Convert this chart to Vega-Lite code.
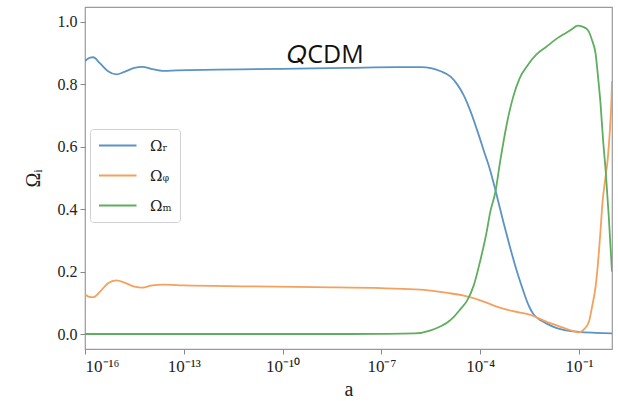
{
  "$schema": "https://vega.github.io/schema/vega-lite/v6.json",
  "autosize": "none",
  "width": 527,
  "height": 342,
  "padding": {"left": 85, "top": 7, "right": 6, "bottom": 52},
  "background": "white",
  "title": {"text": "𝑄CDM", "font": "Open Sans", "fontSize": 25, "fontWeight": "normal", "color": "#111", "anchor": "middle", "frame": "group", "baseline": "alphabetic", "offset": 0, "dx": -23, "dy": 81},
  "config": {
    "view": {"stroke": "#9a9a9a", "strokeWidth": 1.2},
    "axis": {"domain": false, "grid": false, "tickColor": "#888", "tickSize": 5},
    "style": {"guide-label": {"font": "Liberation Serif", "fontSize": 16, "fill": "#222"}}
  },
  "data": {"values": [
    {"a": 1e-16, "v": 0.875, "s": "Ωᵣ"},
    {"a": 1.41e-16, "v": 0.886, "s": "Ωᵣ"},
    {"a": 1.78e-16, "v": 0.887, "s": "Ωᵣ"},
    {"a": 2.82e-16, "v": 0.868, "s": "Ωᵣ"},
    {"a": 5.01e-16, "v": 0.842, "s": "Ωᵣ"},
    {"a": 8.91e-16, "v": 0.832, "s": "Ωᵣ"},
    {"a": 1.58e-15, "v": 0.840, "s": "Ωᵣ"},
    {"a": 3.16e-15, "v": 0.853, "s": "Ωᵣ"},
    {"a": 5.62e-15, "v": 0.856, "s": "Ωᵣ"},
    {"a": 1e-14, "v": 0.850, "s": "Ωᵣ"},
    {"a": 2.51e-14, "v": 0.843, "s": "Ωᵣ"},
    {"a": 6.31e-14, "v": 0.845, "s": "Ωᵣ"},
    {"a": 1e-12, "v": 0.847, "s": "Ωᵣ"},
    {"a": 1e-10, "v": 0.850, "s": "Ωᵣ"},
    {"a": 1e-8, "v": 0.853, "s": "Ωᵣ"},
    {"a": 3.16e-7, "v": 0.855, "s": "Ωᵣ"},
    {"a": 1.58e-6, "v": 0.855, "s": "Ωᵣ"},
    {"a": 3.16e-6, "v": 0.852, "s": "Ωᵣ"},
    {"a": 6.31e-6, "v": 0.842, "s": "Ωᵣ"},
    {"a": 1.26e-5, "v": 0.825, "s": "Ωᵣ"},
    {"a": 2.0e-5, "v": 0.80, "s": "Ωᵣ"},
    {"a": 3.16e-5, "v": 0.765, "s": "Ωᵣ"},
    {"a": 5.01e-5, "v": 0.715, "s": "Ωᵣ"},
    {"a": 7.94e-5, "v": 0.655, "s": "Ωᵣ"},
    {"a": 1.26e-4, "v": 0.59, "s": "Ωᵣ"},
    {"a": 2.0e-4, "v": 0.525, "s": "Ωᵣ"},
    {"a": 3.16e-4, "v": 0.445, "s": "Ωᵣ"},
    {"a": 5.01e-4, "v": 0.36, "s": "Ωᵣ"},
    {"a": 7.94e-4, "v": 0.28, "s": "Ωᵣ"},
    {"a": 1.26e-3, "v": 0.205, "s": "Ωᵣ"},
    {"a": 2.0e-3, "v": 0.14, "s": "Ωᵣ"},
    {"a": 2.51e-3, "v": 0.11, "s": "Ωᵣ"},
    {"a": 3.16e-3, "v": 0.085, "s": "Ωᵣ"},
    {"a": 3.98e-3, "v": 0.066, "s": "Ωᵣ"},
    {"a": 5.01e-3, "v": 0.054, "s": "Ωᵣ"},
    {"a": 7.08e-3, "v": 0.043, "s": "Ωᵣ"},
    {"a": 0.01, "v": 0.034, "s": "Ωᵣ"},
    {"a": 0.02, "v": 0.02, "s": "Ωᵣ"},
    {"a": 0.0398, "v": 0.012, "s": "Ωᵣ"},
    {"a": 0.1, "v": 0.007, "s": "Ωᵣ"},
    {"a": 0.316, "v": 0.004, "s": "Ωᵣ"},
    {"a": 1, "v": 0.002, "s": "Ωᵣ"},

    {"a": 1e-16, "v": 0.128, "s": "Ωᵩ"},
    {"a": 1.26e-16, "v": 0.12, "s": "Ωᵩ"},
    {"a": 1.78e-16, "v": 0.118, "s": "Ωᵩ"},
    {"a": 2.82e-16, "v": 0.135, "s": "Ωᵩ"},
    {"a": 5.01e-16, "v": 0.163, "s": "Ωᵩ"},
    {"a": 8.91e-16, "v": 0.172, "s": "Ωᵩ"},
    {"a": 1.58e-15, "v": 0.165, "s": "Ωᵩ"},
    {"a": 3.16e-15, "v": 0.152, "s": "Ωᵩ"},
    {"a": 5.62e-15, "v": 0.149, "s": "Ωᵩ"},
    {"a": 1e-14, "v": 0.155, "s": "Ωᵩ"},
    {"a": 2.51e-14, "v": 0.158, "s": "Ωᵩ"},
    {"a": 1e-13, "v": 0.156, "s": "Ωᵩ"},
    {"a": 1e-11, "v": 0.153, "s": "Ωᵩ"},
    {"a": 1e-9, "v": 0.150, "s": "Ωᵩ"},
    {"a": 1e-7, "v": 0.147, "s": "Ωᵩ"},
    {"a": 1e-6, "v": 0.143, "s": "Ωᵩ"},
    {"a": 3.16e-6, "v": 0.139, "s": "Ωᵩ"},
    {"a": 1e-5, "v": 0.132, "s": "Ωᵩ"},
    {"a": 3.16e-5, "v": 0.123, "s": "Ωᵩ"},
    {"a": 1e-4, "v": 0.108, "s": "Ωᵩ"},
    {"a": 3.16e-4, "v": 0.088, "s": "Ωᵩ"},
    {"a": 1e-3, "v": 0.073, "s": "Ωᵩ"},
    {"a": 3.16e-3, "v": 0.062, "s": "Ωᵩ"},
    {"a": 0.01, "v": 0.04, "s": "Ωᵩ"},
    {"a": 0.0316, "v": 0.021, "s": "Ωᵩ"},
    {"a": 0.0631, "v": 0.01, "s": "Ωᵩ"},
    {"a": 0.0955, "v": 0.005, "s": "Ωᵩ"},
    {"a": 0.141, "v": 0.015, "s": "Ωᵩ"},
    {"a": 0.2, "v": 0.04, "s": "Ωᵩ"},
    {"a": 0.251, "v": 0.09, "s": "Ωᵩ"},
    {"a": 0.316, "v": 0.15, "s": "Ωᵩ"},
    {"a": 0.363, "v": 0.21, "s": "Ωᵩ"},
    {"a": 0.447, "v": 0.33, "s": "Ωᵩ"},
    {"a": 0.513, "v": 0.42, "s": "Ωᵩ"},
    {"a": 0.631, "v": 0.50, "s": "Ωᵩ"},
    {"a": 0.741, "v": 0.56, "s": "Ωᵩ"},
    {"a": 0.871, "v": 0.66, "s": "Ωᵩ"},
    {"a": 0.955, "v": 0.74, "s": "Ωᵩ"},
    {"a": 1, "v": 0.81, "s": "Ωᵩ"},

    {"a": 1e-16, "v": 0.0, "s": "Ωₘ"},
    {"a": 1e-12, "v": 0.0, "s": "Ωₘ"},
    {"a": 1e-8, "v": 0.0, "s": "Ωₘ"},
    {"a": 1e-7, "v": 0.0005, "s": "Ωₘ"},
    {"a": 1e-6, "v": 0.002, "s": "Ωₘ"},
    {"a": 3.16e-6, "v": 0.012, "s": "Ωₘ"},
    {"a": 6.31e-6, "v": 0.025, "s": "Ωₘ"},
    {"a": 1e-5, "v": 0.037, "s": "Ωₘ"},
    {"a": 1.58e-5, "v": 0.055, "s": "Ωₘ"},
    {"a": 2.51e-5, "v": 0.08, "s": "Ωₘ"},
    {"a": 3.98e-5, "v": 0.107, "s": "Ωₘ"},
    {"a": 6.31e-5, "v": 0.155, "s": "Ωₘ"},
    {"a": 1e-4, "v": 0.235, "s": "Ωₘ"},
    {"a": 1.58e-4, "v": 0.33, "s": "Ωₘ"},
    {"a": 2.0e-4, "v": 0.39, "s": "Ωₘ"},
    {"a": 2.88e-4, "v": 0.455, "s": "Ωₘ"},
    {"a": 3.98e-4, "v": 0.55, "s": "Ωₘ"},
    {"a": 6.31e-4, "v": 0.67, "s": "Ωₘ"},
    {"a": 1e-3, "v": 0.76, "s": "Ωₘ"},
    {"a": 1.58e-3, "v": 0.82, "s": "Ωₘ"},
    {"a": 2.69e-3, "v": 0.86, "s": "Ωₘ"},
    {"a": 5.01e-3, "v": 0.895, "s": "Ωₘ"},
    {"a": 0.01, "v": 0.92, "s": "Ωₘ"},
    {"a": 0.02, "v": 0.945, "s": "Ωₘ"},
    {"a": 0.0398, "v": 0.965, "s": "Ωₘ"},
    {"a": 0.0631, "v": 0.978, "s": "Ωₘ"},
    {"a": 0.0891, "v": 0.988, "s": "Ωₘ"},
    {"a": 0.126, "v": 0.985, "s": "Ωₘ"},
    {"a": 0.182, "v": 0.975, "s": "Ωₘ"},
    {"a": 0.251, "v": 0.94, "s": "Ωₘ"},
    {"a": 0.316, "v": 0.90, "s": "Ωₘ"},
    {"a": 0.380, "v": 0.82, "s": "Ωₘ"},
    {"a": 0.447, "v": 0.74, "s": "Ωₘ"},
    {"a": 0.537, "v": 0.62, "s": "Ωₘ"},
    {"a": 0.646, "v": 0.52, "s": "Ωₘ"},
    {"a": 0.794, "v": 0.38, "s": "Ωₘ"},
    {"a": 0.912, "v": 0.27, "s": "Ωₘ"},
    {"a": 1, "v": 0.2, "s": "Ωₘ"}
  ]},
  "mark": {"type": "line", "strokeWidth": 1.8, "interpolate": "monotone", "clip": true},
  "encoding": {
    "x": {"field": "a", "type": "quantitative",
      "scale": {"type": "log", "domain": [1e-16, 1], "nice": false},
      "axis": {"values": [1e-16, 1e-13, 1e-10, 1e-7, 1e-4, 1e-1], "labelExpr": "'10' + replace(replace(replace(replace(replace(replace(replace(replace(toString(round(log(datum.value)/LN10)),'-','⁻'),'1','¹'),'6','⁶'),'3','³'),'0','⁰'),'7','⁷'),'4','⁴'),'9','⁹')", "labelFont": "Liberation Serif", "labelFontSize": 17, "labelColor": "#222", "labelPadding": 4, "title": "a", "titleFont": "Liberation Serif", "titleFontSize": 20, "titleFontWeight": "normal", "titleColor": "#222", "titlePadding": 5,
        "encode": {"labels": {"update": {"font": {"value": "Liberation Serif"}, "fontSize": {"value": 17}}}}}},
    "y": {"field": "v", "type": "quantitative",
      "scale": {"domain": [-0.048, 1.048], "nice": false, "zero": false},
      "axis": {"values": [0, 0.2, 0.4, 0.6, 0.8, 1.0], "format": ".1f", "labelFont": "Liberation Serif", "labelFontSize": 16, "labelColor": "#222", "labelPadding": 3, "title": "Ωᵢ", "titleFont": "Liberation Serif", "titleFontSize": 20, "titleFontWeight": "normal", "titleColor": "#222", "titlePadding": 14,
        "encode": {"labels": {"update": {"font": {"value": "Liberation Serif"}, "fontSize": {"value": 16}}}}}},
    "color": {"field": "s", "type": "nominal",
      "scale": {"domain": ["Ωᵣ", "Ωᵩ", "Ωₘ"], "range": ["#5b93c4", "#f4a15d", "#5fae5f"]},
      "legend": {"title": null, "orient": "none", "legendX": 5, "legendY": 122, "symbolType": "M-1,0H4", "symbolSize": 225, "symbolStrokeWidth": 2, "symbolFillColor": "transparent", "labelFont": "DejaVu Serif", "labelFontSize": 15, "labelColor": "#222", "labelOffset": 35, "rowPadding": 13, "padding": 8, "strokeColor": "#d0d0d0", "fillColor": "white", "cornerRadius": 3}}
  }
}
